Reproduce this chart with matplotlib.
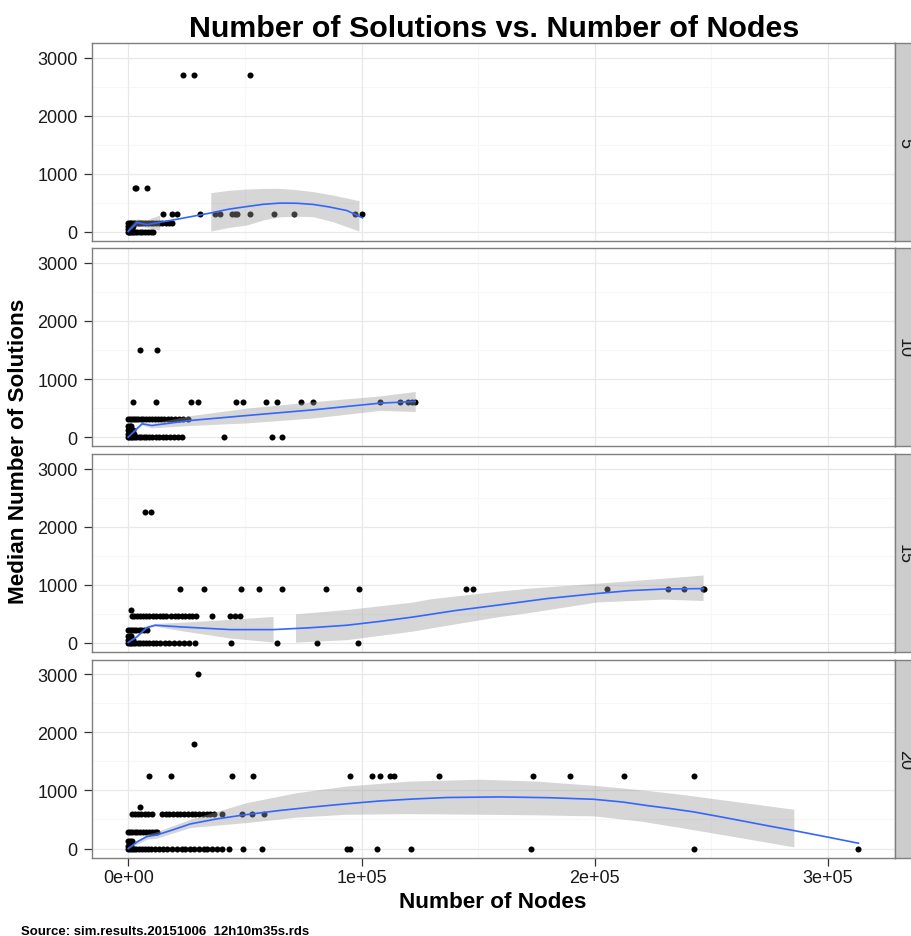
import numpy as np
import matplotlib
matplotlib.use("Agg")
import matplotlib.pyplot as plt
from matplotlib.ticker import FixedLocator

plt.rcParams['font.family'] = ['Liberation Sans', 'DejaVu Sans']

# ---------------------------------------------------------------------------
# Data: median number of solutions vs. number of nodes, one facet per size
# ---------------------------------------------------------------------------
facet_labels = ["5", "10", "15", "20"]

x_ticks = [0, 100000, 200000, 300000]
x_tick_labels = ["0e+00", "1e+05", "2e+05", "3e+05"]
y_ticks = [0, 1000, 2000, 3000]
y_tick_labels = ["0", "1000", "2000", "3000"]

# points: {median solutions: [number of nodes, ...]}
points_5 = {
    2700: [23400, 28400, 52300],
    750: [2700, 3500, 8000],
    310: [14900, 18700, 21000, 30900, 37000, 39400, 44400, 45600, 46500,
          52000, 62600, 71000, 97300, 100400],
    150: [0, 600, 1300, 2100, 3000, 4000, 5000, 6100, 7200, 8400, 9600,
          10800, 12000, 13300, 14600, 16000, 17400, 18700],
    90: [0, 500, 1200, 2200],
    40: [0, 700, 1500],
    0: [0, 400, 900, 1500, 2200, 3000, 3900, 4900, 6000, 7200, 8400, 9600,
        10700],
}
points_10 = {
    1500: [4900, 12300],
    610: [2000, 11900, 26900, 29700, 46300, 49000, 59100, 63900, 74000,
          79400, 108000, 116600, 120000, 121800, 123000],
    315: [0, 800, 1600, 2500, 3400, 4400, 5400, 6500, 7600, 8800, 10000,
          11300, 12600, 14000, 15400, 16900, 18400, 20000, 21700, 23600,
          25800],
    200: [0, 600, 1400],
    120: [0, 400, 1000, 2000],
    50: [0, 500, 1200, 2400],
    0: [0, 500, 1100, 1800, 2600, 3500, 4500, 5500, 6600, 7800, 9000, 10300,
        11700, 13200, 14800, 16400, 18000, 19700, 21400, 23000, 41100, 61600,
        65700],
}
points_15 = {
    2250: [7000, 9900],
    930: [22000, 32400, 48400, 56000, 65700, 84700, 99100, 144900, 147700,
          205200, 231300, 238400, 246300, 247000],
    555: [1100],
    460: [1500, 2600, 3800, 5000, 6300, 7600, 9000, 10500, 12000, 13500,
          15000, 16000, 18500, 20000, 21500, 23000, 24500, 26000, 27500,
          29000, 35900, 43800, 45800, 47800],
    210: [0, 700, 1500, 2400, 3400, 4500, 5600, 6800, 8000],
    110: [0, 600, 1400],
    40: [0, 500, 1200, 2000],
    0: [0, 600, 1300, 2100, 3000, 4000, 5100, 6300, 7600, 9000, 10500, 12100,
        13800, 15600, 17500, 19500, 21600, 23800, 26100, 28500, 44000, 63700,
        80900, 98700],
}
points_20 = {
    3000: [30000],
    1800: [28100],
    1250: [8700, 18300, 44400, 53300, 95000, 104600, 107900, 112300, 114000,
           133000, 173700, 189400, 212300, 242300],
    720: [4900],
    600: [1600, 2900, 4200, 5600, 7000, 8500, 10000, 14400, 16000, 17600,
          19200, 20800, 22400, 24000, 25600, 27200, 28800, 30400, 32000,
          33600, 35200, 36600, 40400, 48600, 53000, 58000],
    290: [0, 800, 1700, 2700, 3800, 5000, 6200, 7500, 8800, 10100, 11300,
          12300],
    130: [0, 700, 1500],
    50: [0, 500, 1100],
    0: [0, 700, 1500, 2400, 3400, 4500, 5700, 7000, 8400, 9900, 11400, 13000,
        15000, 16600, 18700, 20800, 23000, 24400, 26400, 28400, 30400, 32300,
        33700, 35800, 37900, 40000, 43000, 49400, 57300, 93700, 95100, 106600,
        121100, 172600, 242300, 313000],
}

# smoothed trend (fit) and its confidence band; NaN marks a break in the band
fit_x_5 = [0, 3700, 8000, 18000, 35600, 43000, 50900, 58000, 65000, 72000,
           79300, 86000, 93700, 97000, 100400]
fit_y_5 = [0, 155, 120, 190, 322, 385, 431, 470, 490, 488, 467, 425, 362,
           300, 236]
band_x_5 = [0, 3700, 8000, 13700, 13800, 35500, 35600, 43000, 50900, 58000,
            65100, 72000, 79400, 88000, 99100]
band_lo_5 = [0, 100, 60, 17, np.nan, np.nan, 0, 60, 103, 190, 245, 255, 248,
             160, 0]
band_hi_5 = [40, 210, 190, 277, np.nan, np.nan, 662, 700, 724, 734, 736,
             715, 679, 620, 524]

fit_x_10 = [0, 5900, 10100, 26600, 50900, 79400, 108000, 123000]
fit_y_10 = [0, 229, 200, 286, 372, 470, 585, 613]
band_x_10 = [0, 5900, 10100, 26600, 50900, 79400, 108000, 123000]
band_lo_10 = [0, 210, 160, 200, 245, 330, 460, 440]
band_hi_10 = [20, 250, 240, 370, 500, 610, 710, 785]

fit_x_15 = [0, 3700, 8000, 11600, 22300, 43700, 62300, 78000, 93700, 108000,
            122300, 140000, 159400, 180000, 200900, 215000, 229400, 246600]
fit_y_15 = [0, 97, 258, 298, 270, 223, 223, 255, 298, 365, 441, 550, 650,
            760, 845, 895, 922, 930]
band_x_15 = [0, 3700, 8000, 11600, 22300, 43700, 62300, 62400, 71800, 71900,
             93700, 122300, 129400, 159400, 172300, 200900, 229400, 246600]
band_lo_15 = [0, 75, 235, 275, 200, 70, 0, np.nan, np.nan, 0, 40, 190, 240,
              440, 510, 690, 740, 716]
band_hi_15 = [15, 120, 280, 320, 340, 390, 441, np.nan, np.nan, 486, 560,
              690, 744, 880, 930, 1013, 1100, 1156]

fit_x_20 = [0, 4000, 8000, 12300, 19000, 26600, 38000, 50900, 65000, 79400,
            93700, 108000, 122000, 136600, 159400, 180000, 199400, 212000,
            222300, 232000, 242300, 254000, 265200, 275000, 285200, 300000,
            313000]
fit_y_20 = [0, 120, 206, 234, 320, 423, 510, 585, 655, 716, 770, 819, 852,
            878, 888, 875, 848, 800, 740, 690, 631, 545, 460, 385, 310, 195,
            91]
band_x_20 = [0, 8000, 12300, 26600, 50900, 72000, 93700, 120000, 150900,
             175000, 199400, 220000, 236700, 262000, 285300]
band_lo_20 = [0, 160, 180, 361, 448, 540, 590, 600, 590, 580, 562, 470, 361,
              190, 28]
band_hi_20 = [20, 250, 290, 504, 792, 960, 1077, 1160, 1193, 1160, 1089,
              1010, 935, 800, 676]

facets = [
    (points_5, fit_x_5, fit_y_5, band_x_5, band_lo_5, band_hi_5),
    (points_10, fit_x_10, fit_y_10, band_x_10, band_lo_10, band_hi_10),
    (points_15, fit_x_15, fit_y_15, band_x_15, band_lo_15, band_hi_15),
    (points_20, fit_x_20, fit_y_20, band_x_20, band_lo_20, band_hi_20),
]

# ---------------------------------------------------------------------------
# Layout (pixels)
# ---------------------------------------------------------------------------
W, H = 912, 937
fig = plt.figure(figsize=(W / 100, H / 100), dpi=100)
fig.patch.set_facecolor("white")

panel_rows = [(44, 241.7), (249.3, 447.3), (455, 652.7), (660.7, 858.7)]
left, right = 91.7, 895.0
strip_l, strip_r = 895.0, 918.0

border = "#7f7f7f"
tick_size = 13

for i, ((top, bot), (pts, fx, fy, bx, blo, bhi)) in enumerate(
        zip(panel_rows, facets)):
    ax = fig.add_axes([left / W, 1 - bot / H, (right - left) / W,
                       (bot - top) / H])
    ax.set_xlim(-15650, 328650)
    ax.set_ylim(-158, 3250)

    # grid
    for v in [50000, 150000, 250000]:
        ax.axvline(v, color="#f7f7f7", lw=0.8, zorder=0)
    for v in [500, 1500, 2500]:
        ax.axhline(v, color="#f7f7f7", lw=0.8, zorder=0)
    for v in x_ticks:
        ax.axvline(v, color="#e8e8e8", lw=0.9, zorder=0)
    for v in y_ticks:
        ax.axhline(v, color="#e8e8e8", lw=0.9, zorder=0)

    xs, ys = [], []
    for level, nodes in pts.items():
        xs.extend(nodes)
        ys.extend([level] * len(nodes))
    ax.scatter(xs, ys, s=19, color="black", linewidths=0, zorder=2)

    ax.fill_between(bx, blo, bhi, color="#999999", alpha=0.4, lw=0,
                    zorder=3)
    ax.plot(fx, fy, color="#3366FF", lw=1.2, zorder=4,
            solid_joinstyle="round")

    for sp in ax.spines.values():
        sp.set_color(border)
        sp.set_linewidth(1.0)

    ax.xaxis.set_major_locator(FixedLocator(x_ticks))
    ax.yaxis.set_major_locator(FixedLocator(y_ticks))
    ax.set_yticklabels(y_tick_labels)
    ax.tick_params(axis="both", length=5.8, width=0.9, color="#333333",
                   labelsize=tick_size, labelcolor="#1a1a1a")
    ax.tick_params(axis="y", pad=4.3)
    ax.tick_params(axis="x", pad=2.5)
    if i == len(panel_rows) - 1:
        ax.set_xticklabels(x_tick_labels)
    else:
        ax.tick_params(axis="x", length=0, labelbottom=False)

    # facet strip on the right
    sax = fig.add_axes([strip_l / W, 1 - bot / H, (strip_r - strip_l) / W,
                        (bot - top) / H])
    sax.set_facecolor("#cccccc")
    sax.set_xticks([])
    sax.set_yticks([])
    for sp in sax.spines.values():
        sp.set_color(border)
        sp.set_linewidth(1.0)
    sax.text((904.5 - strip_l) / (strip_r - strip_l), 0.5, facet_labels[i],
             rotation=-90, ha="center", va="center", fontsize=13,
             color="#1a1a1a", transform=sax.transAxes)

fig.text(494 / W, 1 - 37.5 / H, "Number of Solutions vs. Number of Nodes",
         ha="center", va="baseline", fontsize=21.9, fontweight="bold")
fig.text(493 / W, 1 - 908.5 / H, "Number of Nodes", ha="center",
         va="baseline", fontsize=16.2, fontweight="bold")
fig.text(19 / W, 1 - 451 / H, "Median Number of Solutions", ha="center",
         va="center", rotation=90, fontsize=16.2, fontweight="bold")
fig.text(20.7 / W, 1 - 935.5 / H, "Source: sim.results.20151006  12h10m35s.rds",
         ha="left", va="baseline", fontsize=9.5, fontweight="bold")

fig.savefig("out.png", dpi=100)
